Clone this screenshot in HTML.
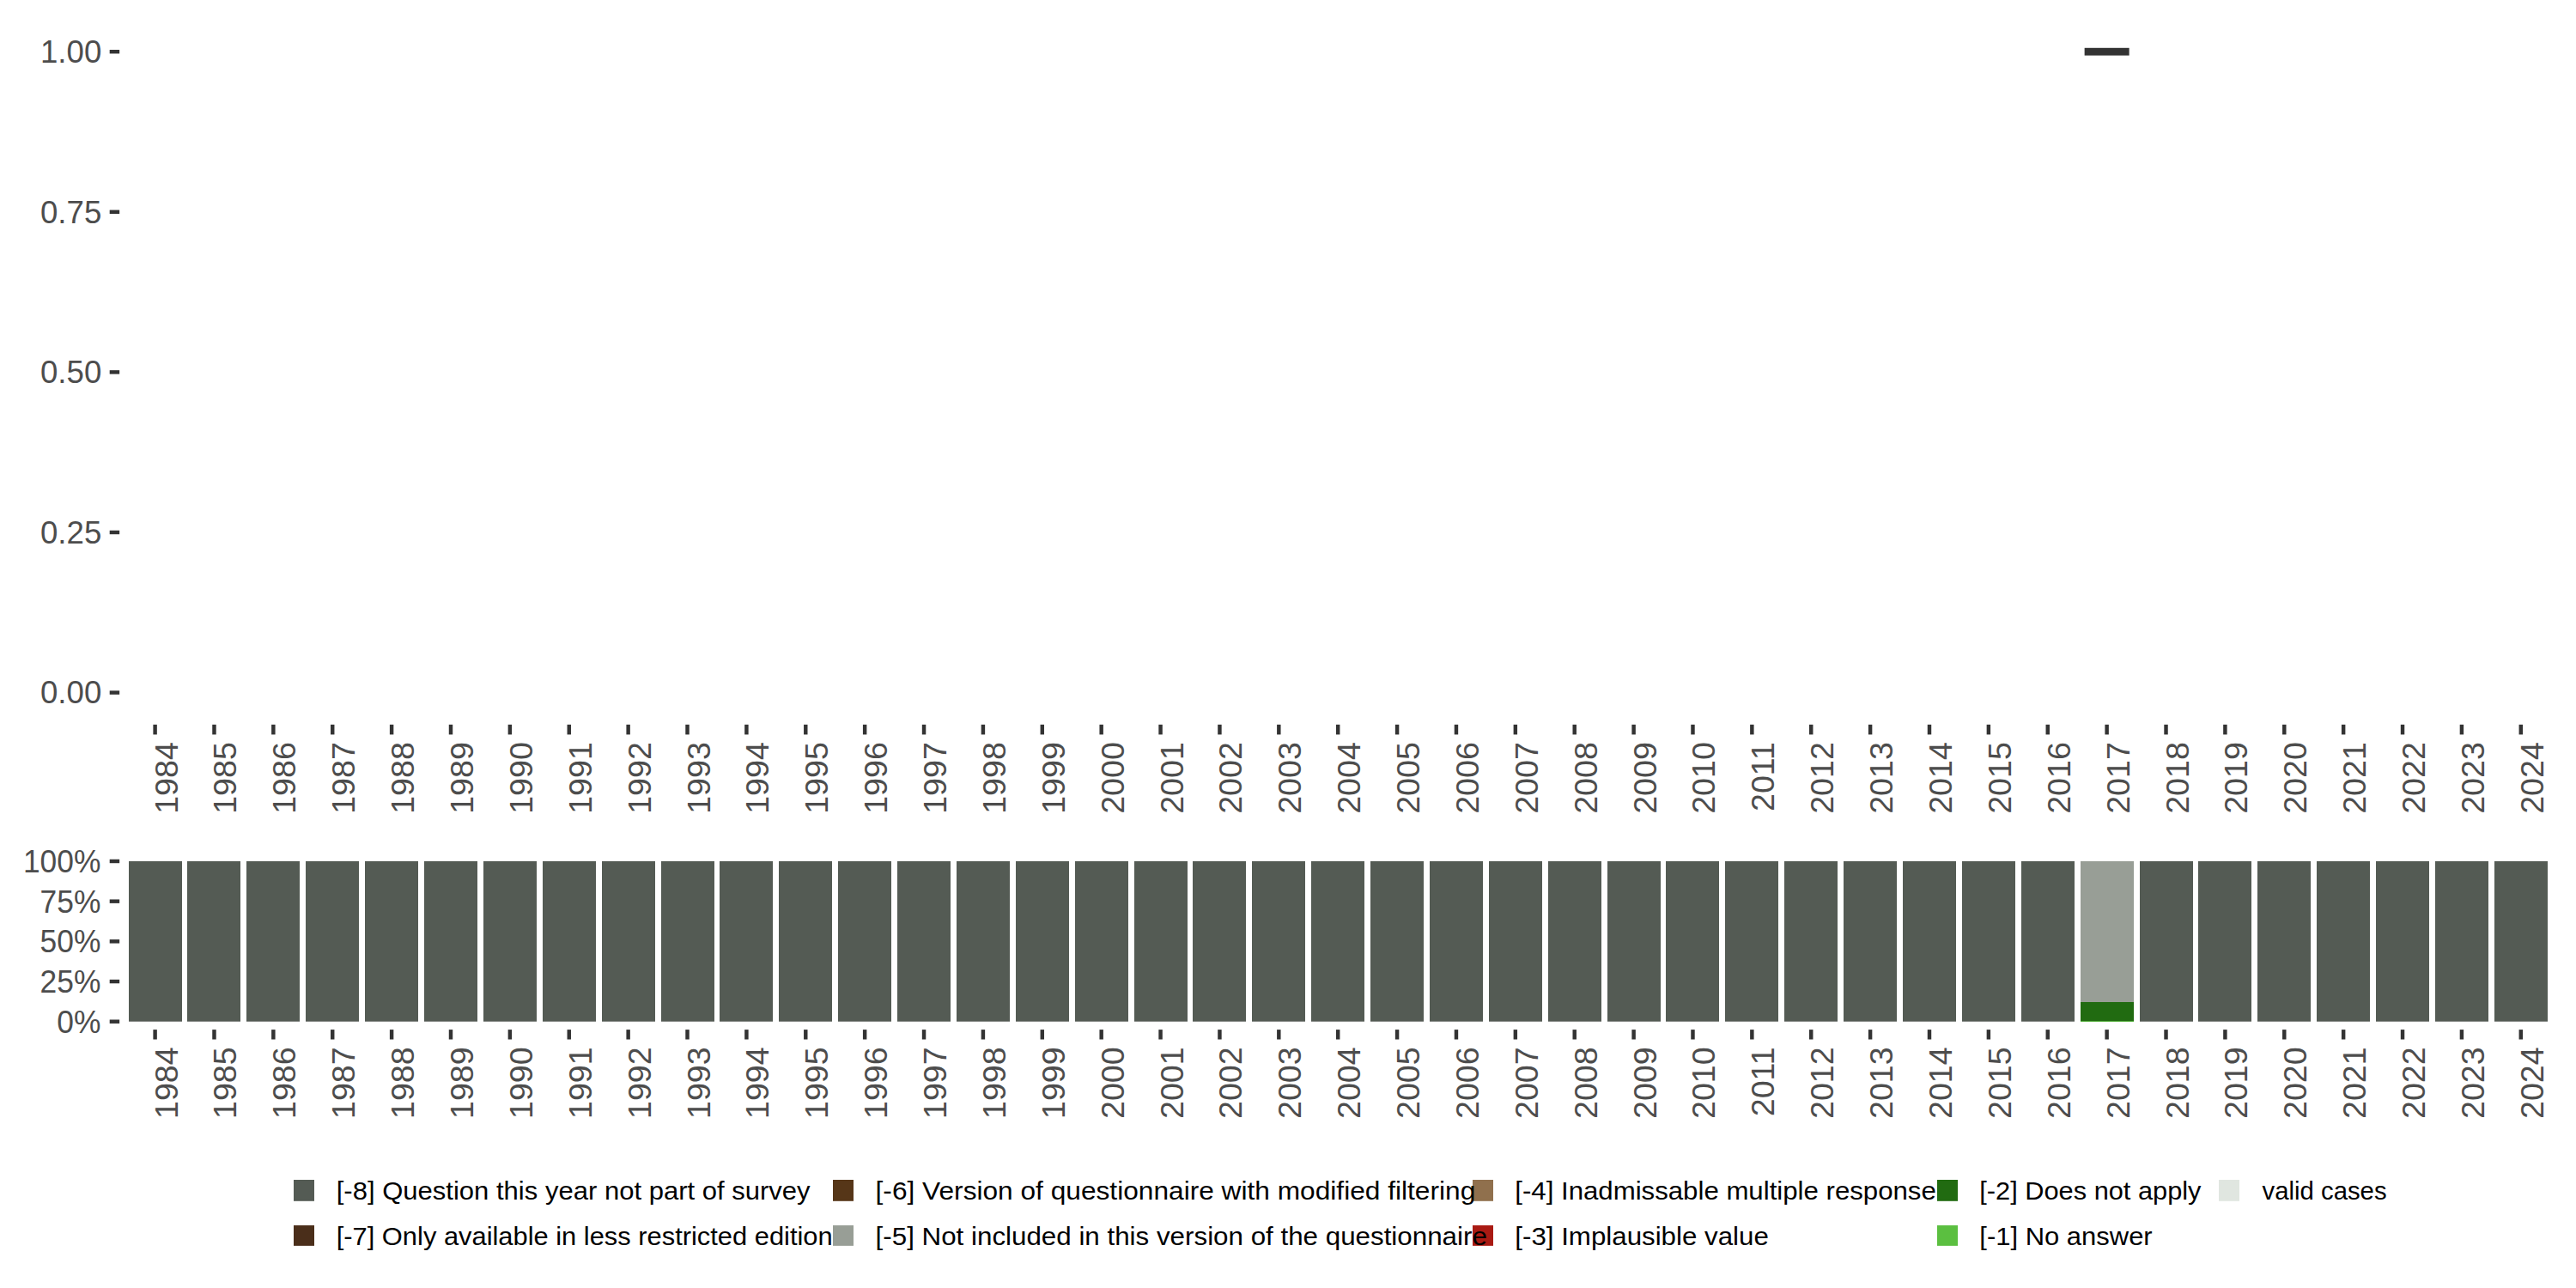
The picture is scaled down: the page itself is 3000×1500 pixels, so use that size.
<!DOCTYPE html>
<html lang="en"><head><meta charset="utf-8"><title>Variable distribution by survey year</title>
<style>html,body{margin:0;padding:0;background:#fff}body{width:3000px;height:1500px;overflow:hidden}svg{display:block}text{font-family:"Liberation Sans", "DejaVu Sans", sans-serif}.ax{font-size:36.67px;fill:#4D4D4D}.lg{font-size:29.3px;fill:#000}</style>
</head><body>
<svg width="3000" height="1500" viewBox="0 0 3000 1500">
<rect x="0" y="0" width="3000" height="1500" fill="#ffffff"/>
<g id="upper">
<rect x="127.7" y="57.98" width="11.45" height="4.45" fill="#333333"/>
<text class="ax" x="118.3" y="73.05" text-anchor="end">1.00</text>
<rect x="127.7" y="244.58" width="11.45" height="4.45" fill="#333333"/>
<text class="ax" x="118.3" y="259.65" text-anchor="end">0.75</text>
<rect x="127.7" y="431.17" width="11.45" height="4.45" fill="#333333"/>
<text class="ax" x="118.3" y="446.25" text-anchor="end">0.50</text>
<rect x="127.7" y="617.77" width="11.45" height="4.45" fill="#333333"/>
<text class="ax" x="118.3" y="632.85" text-anchor="end">0.25</text>
<rect x="127.7" y="804.38" width="11.45" height="4.45" fill="#333333"/>
<text class="ax" x="118.3" y="819.45" text-anchor="end">0.00</text>
<rect x="2427.64" y="55.80" width="52" height="8.8" fill="#333333"/>
<rect x="178.38" y="843.85" width="4.45" height="11.6" fill="#333333"/>
<text class="ax" text-anchor="end" transform="translate(206.90 864.2) rotate(-90) scale(1.025 1)">1984</text>
<rect x="247.25" y="843.85" width="4.45" height="11.6" fill="#333333"/>
<text class="ax" text-anchor="end" transform="translate(274.90 864.2) rotate(-90) scale(1.025 1)">1985</text>
<rect x="316.13" y="843.85" width="4.45" height="11.6" fill="#333333"/>
<text class="ax" text-anchor="end" transform="translate(343.90 864.2) rotate(-90) scale(1.025 1)">1986</text>
<rect x="385.01" y="843.85" width="4.45" height="11.6" fill="#333333"/>
<text class="ax" text-anchor="end" transform="translate(412.90 864.2) rotate(-90) scale(1.025 1)">1987</text>
<rect x="453.89" y="843.85" width="4.45" height="11.6" fill="#333333"/>
<text class="ax" text-anchor="end" transform="translate(481.90 864.2) rotate(-90) scale(1.025 1)">1988</text>
<rect x="522.77" y="843.85" width="4.45" height="11.6" fill="#333333"/>
<text class="ax" text-anchor="end" transform="translate(550.90 864.2) rotate(-90) scale(1.025 1)">1989</text>
<rect x="591.65" y="843.85" width="4.45" height="11.6" fill="#333333"/>
<text class="ax" text-anchor="end" transform="translate(619.90 864.2) rotate(-90) scale(1.025 1)">1990</text>
<rect x="660.53" y="843.85" width="4.45" height="11.6" fill="#333333"/>
<text class="ax" text-anchor="end" transform="translate(688.90 864.2) rotate(-90) scale(1.025 1)">1991</text>
<rect x="729.41" y="843.85" width="4.45" height="11.6" fill="#333333"/>
<text class="ax" text-anchor="end" transform="translate(757.90 864.2) rotate(-90) scale(1.025 1)">1992</text>
<rect x="798.29" y="843.85" width="4.45" height="11.6" fill="#333333"/>
<text class="ax" text-anchor="end" transform="translate(826.90 864.2) rotate(-90) scale(1.025 1)">1993</text>
<rect x="867.17" y="843.85" width="4.45" height="11.6" fill="#333333"/>
<text class="ax" text-anchor="end" transform="translate(894.90 864.2) rotate(-90) scale(1.025 1)">1994</text>
<rect x="936.05" y="843.85" width="4.45" height="11.6" fill="#333333"/>
<text class="ax" text-anchor="end" transform="translate(963.90 864.2) rotate(-90) scale(1.025 1)">1995</text>
<rect x="1004.93" y="843.85" width="4.45" height="11.6" fill="#333333"/>
<text class="ax" text-anchor="end" transform="translate(1032.90 864.2) rotate(-90) scale(1.025 1)">1996</text>
<rect x="1073.82" y="843.85" width="4.45" height="11.6" fill="#333333"/>
<text class="ax" text-anchor="end" transform="translate(1101.90 864.2) rotate(-90) scale(1.025 1)">1997</text>
<rect x="1142.69" y="843.85" width="4.45" height="11.6" fill="#333333"/>
<text class="ax" text-anchor="end" transform="translate(1170.90 864.2) rotate(-90) scale(1.025 1)">1998</text>
<rect x="1211.57" y="843.85" width="4.45" height="11.6" fill="#333333"/>
<text class="ax" text-anchor="end" transform="translate(1239.90 864.2) rotate(-90) scale(1.025 1)">1999</text>
<rect x="1280.45" y="843.85" width="4.45" height="11.6" fill="#333333"/>
<text class="ax" text-anchor="end" transform="translate(1308.90 864.2) rotate(-90) scale(1.025 1)">2000</text>
<rect x="1349.34" y="843.85" width="4.45" height="11.6" fill="#333333"/>
<text class="ax" text-anchor="end" transform="translate(1377.90 864.2) rotate(-90) scale(1.025 1)">2001</text>
<rect x="1418.21" y="843.85" width="4.45" height="11.6" fill="#333333"/>
<text class="ax" text-anchor="end" transform="translate(1445.90 864.2) rotate(-90) scale(1.025 1)">2002</text>
<rect x="1487.09" y="843.85" width="4.45" height="11.6" fill="#333333"/>
<text class="ax" text-anchor="end" transform="translate(1514.90 864.2) rotate(-90) scale(1.025 1)">2003</text>
<rect x="1555.97" y="843.85" width="4.45" height="11.6" fill="#333333"/>
<text class="ax" text-anchor="end" transform="translate(1583.90 864.2) rotate(-90) scale(1.025 1)">2004</text>
<rect x="1624.86" y="843.85" width="4.45" height="11.6" fill="#333333"/>
<text class="ax" text-anchor="end" transform="translate(1652.90 864.2) rotate(-90) scale(1.025 1)">2005</text>
<rect x="1693.73" y="843.85" width="4.45" height="11.6" fill="#333333"/>
<text class="ax" text-anchor="end" transform="translate(1721.90 864.2) rotate(-90) scale(1.025 1)">2006</text>
<rect x="1762.61" y="843.85" width="4.45" height="11.6" fill="#333333"/>
<text class="ax" text-anchor="end" transform="translate(1790.90 864.2) rotate(-90) scale(1.025 1)">2007</text>
<rect x="1831.49" y="843.85" width="4.45" height="11.6" fill="#333333"/>
<text class="ax" text-anchor="end" transform="translate(1859.90 864.2) rotate(-90) scale(1.025 1)">2008</text>
<rect x="1900.38" y="843.85" width="4.45" height="11.6" fill="#333333"/>
<text class="ax" text-anchor="end" transform="translate(1928.90 864.2) rotate(-90) scale(1.025 1)">2009</text>
<rect x="1969.25" y="843.85" width="4.45" height="11.6" fill="#333333"/>
<text class="ax" text-anchor="end" transform="translate(1996.90 864.2) rotate(-90) scale(1.025 1)">2010</text>
<rect x="2038.13" y="843.85" width="4.45" height="11.6" fill="#333333"/>
<text class="ax" text-anchor="end" transform="translate(2065.90 864.2) rotate(-90) scale(1.025 1)">2011</text>
<rect x="2107.01" y="843.85" width="4.45" height="11.6" fill="#333333"/>
<text class="ax" text-anchor="end" transform="translate(2134.90 864.2) rotate(-90) scale(1.025 1)">2012</text>
<rect x="2175.89" y="843.85" width="4.45" height="11.6" fill="#333333"/>
<text class="ax" text-anchor="end" transform="translate(2203.90 864.2) rotate(-90) scale(1.025 1)">2013</text>
<rect x="2244.77" y="843.85" width="4.45" height="11.6" fill="#333333"/>
<text class="ax" text-anchor="end" transform="translate(2272.90 864.2) rotate(-90) scale(1.025 1)">2014</text>
<rect x="2313.65" y="843.85" width="4.45" height="11.6" fill="#333333"/>
<text class="ax" text-anchor="end" transform="translate(2341.90 864.2) rotate(-90) scale(1.025 1)">2015</text>
<rect x="2382.53" y="843.85" width="4.45" height="11.6" fill="#333333"/>
<text class="ax" text-anchor="end" transform="translate(2410.90 864.2) rotate(-90) scale(1.025 1)">2016</text>
<rect x="2451.41" y="843.85" width="4.45" height="11.6" fill="#333333"/>
<text class="ax" text-anchor="end" transform="translate(2479.90 864.2) rotate(-90) scale(1.025 1)">2017</text>
<rect x="2520.30" y="843.85" width="4.45" height="11.6" fill="#333333"/>
<text class="ax" text-anchor="end" transform="translate(2548.90 864.2) rotate(-90) scale(1.025 1)">2018</text>
<rect x="2589.17" y="843.85" width="4.45" height="11.6" fill="#333333"/>
<text class="ax" text-anchor="end" transform="translate(2616.90 864.2) rotate(-90) scale(1.025 1)">2019</text>
<rect x="2658.05" y="843.85" width="4.45" height="11.6" fill="#333333"/>
<text class="ax" text-anchor="end" transform="translate(2685.90 864.2) rotate(-90) scale(1.025 1)">2020</text>
<rect x="2726.93" y="843.85" width="4.45" height="11.6" fill="#333333"/>
<text class="ax" text-anchor="end" transform="translate(2754.90 864.2) rotate(-90) scale(1.025 1)">2021</text>
<rect x="2795.81" y="843.85" width="4.45" height="11.6" fill="#333333"/>
<text class="ax" text-anchor="end" transform="translate(2823.90 864.2) rotate(-90) scale(1.025 1)">2022</text>
<rect x="2864.69" y="843.85" width="4.45" height="11.6" fill="#333333"/>
<text class="ax" text-anchor="end" transform="translate(2892.90 864.2) rotate(-90) scale(1.025 1)">2023</text>
<rect x="2933.57" y="843.85" width="4.45" height="11.6" fill="#333333"/>
<text class="ax" text-anchor="end" transform="translate(2961.90 864.2) rotate(-90) scale(1.025 1)">2024</text>
</g>
<g id="lower">
<rect x="127.7" y="1000.77" width="11.45" height="4.45" fill="#333333"/>
<text class="ax" text-anchor="end" transform="translate(117.4 1015.85) scale(0.965 1)">100%</text>
<rect x="127.7" y="1047.45" width="11.45" height="4.45" fill="#333333"/>
<text class="ax" text-anchor="end" transform="translate(117.4 1062.52) scale(0.965 1)">75%</text>
<rect x="127.7" y="1094.12" width="11.45" height="4.45" fill="#333333"/>
<text class="ax" text-anchor="end" transform="translate(117.4 1109.20) scale(0.965 1)">50%</text>
<rect x="127.7" y="1140.80" width="11.45" height="4.45" fill="#333333"/>
<text class="ax" text-anchor="end" transform="translate(117.4 1155.88) scale(0.965 1)">25%</text>
<rect x="127.7" y="1187.48" width="11.45" height="4.45" fill="#333333"/>
<text class="ax" text-anchor="end" transform="translate(117.4 1202.55) scale(0.965 1)">0%</text>
<rect x="150" y="1003.00" width="62" height="186.70" fill="#545B54"/>
<rect x="178.38" y="1199.1" width="4.45" height="11.4" fill="#333333"/>
<text class="ax" text-anchor="end" transform="translate(206.90 1219.4) rotate(-90) scale(1.025 1)">1984</text>
<rect x="218" y="1003.00" width="62" height="186.70" fill="#545B54"/>
<rect x="247.25" y="1199.1" width="4.45" height="11.4" fill="#333333"/>
<text class="ax" text-anchor="end" transform="translate(274.90 1219.4) rotate(-90) scale(1.025 1)">1985</text>
<rect x="287" y="1003.00" width="62" height="186.70" fill="#545B54"/>
<rect x="316.13" y="1199.1" width="4.45" height="11.4" fill="#333333"/>
<text class="ax" text-anchor="end" transform="translate(343.90 1219.4) rotate(-90) scale(1.025 1)">1986</text>
<rect x="356" y="1003.00" width="62" height="186.70" fill="#545B54"/>
<rect x="385.01" y="1199.1" width="4.45" height="11.4" fill="#333333"/>
<text class="ax" text-anchor="end" transform="translate(412.90 1219.4) rotate(-90) scale(1.025 1)">1987</text>
<rect x="425" y="1003.00" width="62" height="186.70" fill="#545B54"/>
<rect x="453.89" y="1199.1" width="4.45" height="11.4" fill="#333333"/>
<text class="ax" text-anchor="end" transform="translate(481.90 1219.4) rotate(-90) scale(1.025 1)">1988</text>
<rect x="494" y="1003.00" width="62" height="186.70" fill="#545B54"/>
<rect x="522.77" y="1199.1" width="4.45" height="11.4" fill="#333333"/>
<text class="ax" text-anchor="end" transform="translate(550.90 1219.4) rotate(-90) scale(1.025 1)">1989</text>
<rect x="563" y="1003.00" width="62" height="186.70" fill="#545B54"/>
<rect x="591.65" y="1199.1" width="4.45" height="11.4" fill="#333333"/>
<text class="ax" text-anchor="end" transform="translate(619.90 1219.4) rotate(-90) scale(1.025 1)">1990</text>
<rect x="632" y="1003.00" width="62" height="186.70" fill="#545B54"/>
<rect x="660.53" y="1199.1" width="4.45" height="11.4" fill="#333333"/>
<text class="ax" text-anchor="end" transform="translate(688.90 1219.4) rotate(-90) scale(1.025 1)">1991</text>
<rect x="701" y="1003.00" width="62" height="186.70" fill="#545B54"/>
<rect x="729.41" y="1199.1" width="4.45" height="11.4" fill="#333333"/>
<text class="ax" text-anchor="end" transform="translate(757.90 1219.4) rotate(-90) scale(1.025 1)">1992</text>
<rect x="770" y="1003.00" width="62" height="186.70" fill="#545B54"/>
<rect x="798.29" y="1199.1" width="4.45" height="11.4" fill="#333333"/>
<text class="ax" text-anchor="end" transform="translate(826.90 1219.4) rotate(-90) scale(1.025 1)">1993</text>
<rect x="838" y="1003.00" width="62" height="186.70" fill="#545B54"/>
<rect x="867.17" y="1199.1" width="4.45" height="11.4" fill="#333333"/>
<text class="ax" text-anchor="end" transform="translate(894.90 1219.4) rotate(-90) scale(1.025 1)">1994</text>
<rect x="907" y="1003.00" width="62" height="186.70" fill="#545B54"/>
<rect x="936.05" y="1199.1" width="4.45" height="11.4" fill="#333333"/>
<text class="ax" text-anchor="end" transform="translate(963.90 1219.4) rotate(-90) scale(1.025 1)">1995</text>
<rect x="976" y="1003.00" width="62" height="186.70" fill="#545B54"/>
<rect x="1004.93" y="1199.1" width="4.45" height="11.4" fill="#333333"/>
<text class="ax" text-anchor="end" transform="translate(1032.90 1219.4) rotate(-90) scale(1.025 1)">1996</text>
<rect x="1045" y="1003.00" width="62" height="186.70" fill="#545B54"/>
<rect x="1073.82" y="1199.1" width="4.45" height="11.4" fill="#333333"/>
<text class="ax" text-anchor="end" transform="translate(1101.90 1219.4) rotate(-90) scale(1.025 1)">1997</text>
<rect x="1114" y="1003.00" width="62" height="186.70" fill="#545B54"/>
<rect x="1142.69" y="1199.1" width="4.45" height="11.4" fill="#333333"/>
<text class="ax" text-anchor="end" transform="translate(1170.90 1219.4) rotate(-90) scale(1.025 1)">1998</text>
<rect x="1183" y="1003.00" width="62" height="186.70" fill="#545B54"/>
<rect x="1211.57" y="1199.1" width="4.45" height="11.4" fill="#333333"/>
<text class="ax" text-anchor="end" transform="translate(1239.90 1219.4) rotate(-90) scale(1.025 1)">1999</text>
<rect x="1252" y="1003.00" width="62" height="186.70" fill="#545B54"/>
<rect x="1280.45" y="1199.1" width="4.45" height="11.4" fill="#333333"/>
<text class="ax" text-anchor="end" transform="translate(1308.90 1219.4) rotate(-90) scale(1.025 1)">2000</text>
<rect x="1321" y="1003.00" width="62" height="186.70" fill="#545B54"/>
<rect x="1349.34" y="1199.1" width="4.45" height="11.4" fill="#333333"/>
<text class="ax" text-anchor="end" transform="translate(1377.90 1219.4) rotate(-90) scale(1.025 1)">2001</text>
<rect x="1389" y="1003.00" width="62" height="186.70" fill="#545B54"/>
<rect x="1418.21" y="1199.1" width="4.45" height="11.4" fill="#333333"/>
<text class="ax" text-anchor="end" transform="translate(1445.90 1219.4) rotate(-90) scale(1.025 1)">2002</text>
<rect x="1458" y="1003.00" width="62" height="186.70" fill="#545B54"/>
<rect x="1487.09" y="1199.1" width="4.45" height="11.4" fill="#333333"/>
<text class="ax" text-anchor="end" transform="translate(1514.90 1219.4) rotate(-90) scale(1.025 1)">2003</text>
<rect x="1527" y="1003.00" width="62" height="186.70" fill="#545B54"/>
<rect x="1555.97" y="1199.1" width="4.45" height="11.4" fill="#333333"/>
<text class="ax" text-anchor="end" transform="translate(1583.90 1219.4) rotate(-90) scale(1.025 1)">2004</text>
<rect x="1596" y="1003.00" width="62" height="186.70" fill="#545B54"/>
<rect x="1624.86" y="1199.1" width="4.45" height="11.4" fill="#333333"/>
<text class="ax" text-anchor="end" transform="translate(1652.90 1219.4) rotate(-90) scale(1.025 1)">2005</text>
<rect x="1665" y="1003.00" width="62" height="186.70" fill="#545B54"/>
<rect x="1693.73" y="1199.1" width="4.45" height="11.4" fill="#333333"/>
<text class="ax" text-anchor="end" transform="translate(1721.90 1219.4) rotate(-90) scale(1.025 1)">2006</text>
<rect x="1734" y="1003.00" width="62" height="186.70" fill="#545B54"/>
<rect x="1762.61" y="1199.1" width="4.45" height="11.4" fill="#333333"/>
<text class="ax" text-anchor="end" transform="translate(1790.90 1219.4) rotate(-90) scale(1.025 1)">2007</text>
<rect x="1803" y="1003.00" width="62" height="186.70" fill="#545B54"/>
<rect x="1831.49" y="1199.1" width="4.45" height="11.4" fill="#333333"/>
<text class="ax" text-anchor="end" transform="translate(1859.90 1219.4) rotate(-90) scale(1.025 1)">2008</text>
<rect x="1872" y="1003.00" width="62" height="186.70" fill="#545B54"/>
<rect x="1900.38" y="1199.1" width="4.45" height="11.4" fill="#333333"/>
<text class="ax" text-anchor="end" transform="translate(1928.90 1219.4) rotate(-90) scale(1.025 1)">2009</text>
<rect x="1940" y="1003.00" width="62" height="186.70" fill="#545B54"/>
<rect x="1969.25" y="1199.1" width="4.45" height="11.4" fill="#333333"/>
<text class="ax" text-anchor="end" transform="translate(1996.90 1219.4) rotate(-90) scale(1.025 1)">2010</text>
<rect x="2009" y="1003.00" width="62" height="186.70" fill="#545B54"/>
<rect x="2038.13" y="1199.1" width="4.45" height="11.4" fill="#333333"/>
<text class="ax" text-anchor="end" transform="translate(2065.90 1219.4) rotate(-90) scale(1.025 1)">2011</text>
<rect x="2078" y="1003.00" width="62" height="186.70" fill="#545B54"/>
<rect x="2107.01" y="1199.1" width="4.45" height="11.4" fill="#333333"/>
<text class="ax" text-anchor="end" transform="translate(2134.90 1219.4) rotate(-90) scale(1.025 1)">2012</text>
<rect x="2147" y="1003.00" width="62" height="186.70" fill="#545B54"/>
<rect x="2175.89" y="1199.1" width="4.45" height="11.4" fill="#333333"/>
<text class="ax" text-anchor="end" transform="translate(2203.90 1219.4) rotate(-90) scale(1.025 1)">2013</text>
<rect x="2216" y="1003.00" width="62" height="186.70" fill="#545B54"/>
<rect x="2244.77" y="1199.1" width="4.45" height="11.4" fill="#333333"/>
<text class="ax" text-anchor="end" transform="translate(2272.90 1219.4) rotate(-90) scale(1.025 1)">2014</text>
<rect x="2285" y="1003.00" width="62" height="186.70" fill="#545B54"/>
<rect x="2313.65" y="1199.1" width="4.45" height="11.4" fill="#333333"/>
<text class="ax" text-anchor="end" transform="translate(2341.90 1219.4) rotate(-90) scale(1.025 1)">2015</text>
<rect x="2354" y="1003.00" width="62" height="186.70" fill="#545B54"/>
<rect x="2382.53" y="1199.1" width="4.45" height="11.4" fill="#333333"/>
<text class="ax" text-anchor="end" transform="translate(2410.90 1219.4) rotate(-90) scale(1.025 1)">2016</text>
<rect x="2423" y="1003.00" width="62" height="164.00" fill="#989E96"/>
<rect x="2423" y="1167" width="62" height="22.70" fill="#216B11"/>
<rect x="2423" y="1189.30" width="62" height="0.7" fill="#5BBF40"/>
<rect x="2451.41" y="1199.1" width="4.45" height="11.4" fill="#333333"/>
<text class="ax" text-anchor="end" transform="translate(2479.90 1219.4) rotate(-90) scale(1.025 1)">2017</text>
<rect x="2492" y="1003.00" width="62" height="186.70" fill="#545B54"/>
<rect x="2520.30" y="1199.1" width="4.45" height="11.4" fill="#333333"/>
<text class="ax" text-anchor="end" transform="translate(2548.90 1219.4) rotate(-90) scale(1.025 1)">2018</text>
<rect x="2560" y="1003.00" width="62" height="186.70" fill="#545B54"/>
<rect x="2589.17" y="1199.1" width="4.45" height="11.4" fill="#333333"/>
<text class="ax" text-anchor="end" transform="translate(2616.90 1219.4) rotate(-90) scale(1.025 1)">2019</text>
<rect x="2629" y="1003.00" width="62" height="186.70" fill="#545B54"/>
<rect x="2658.05" y="1199.1" width="4.45" height="11.4" fill="#333333"/>
<text class="ax" text-anchor="end" transform="translate(2685.90 1219.4) rotate(-90) scale(1.025 1)">2020</text>
<rect x="2698" y="1003.00" width="62" height="186.70" fill="#545B54"/>
<rect x="2726.93" y="1199.1" width="4.45" height="11.4" fill="#333333"/>
<text class="ax" text-anchor="end" transform="translate(2754.90 1219.4) rotate(-90) scale(1.025 1)">2021</text>
<rect x="2767" y="1003.00" width="62" height="186.70" fill="#545B54"/>
<rect x="2795.81" y="1199.1" width="4.45" height="11.4" fill="#333333"/>
<text class="ax" text-anchor="end" transform="translate(2823.90 1219.4) rotate(-90) scale(1.025 1)">2022</text>
<rect x="2836" y="1003.00" width="62" height="186.70" fill="#545B54"/>
<rect x="2864.69" y="1199.1" width="4.45" height="11.4" fill="#333333"/>
<text class="ax" text-anchor="end" transform="translate(2892.90 1219.4) rotate(-90) scale(1.025 1)">2023</text>
<rect x="2905" y="1003.00" width="62" height="186.70" fill="#545B54"/>
<rect x="2933.57" y="1199.1" width="4.45" height="11.4" fill="#333333"/>
<text class="ax" text-anchor="end" transform="translate(2961.90 1219.4) rotate(-90) scale(1.025 1)">2024</text>
</g>
<g id="legend">
<rect x="342.00" y="1374.00" width="24" height="24.80" fill="#545B54"/>
<rect x="342.00" y="1427.05" width="24" height="23.80" fill="#4A2E1A"/>
<rect x="970.00" y="1374.00" width="24" height="24.80" fill="#563618"/>
<rect x="970.00" y="1427.05" width="24" height="23.80" fill="#989E96"/>
<rect x="1715.00" y="1374.00" width="24" height="24.80" fill="#90704D"/>
<rect x="1715.00" y="1427.05" width="24" height="23.80" fill="#A91A13"/>
<rect x="2256.00" y="1374.00" width="24" height="24.80" fill="#216B11"/>
<rect x="2256.00" y="1427.05" width="24" height="23.80" fill="#5BBF40"/>
<rect x="2584.00" y="1374.00" width="24" height="24.80" fill="#E0E6E0"/>
<text class="lg" transform="translate(391.70 1397.20) scale(1.0596 1)">[-8] Question this year not part of survey</text>
<text class="lg" transform="translate(391.71 1449.90) scale(1.0538 1)">[-7] Only available in less restricted edition</text>
<text class="lg" transform="translate(1019.56 1397.20) scale(1.0809 1)">[-6] Version of questionnaire with modified filtering</text>
<text class="lg" transform="translate(1019.58 1449.90) scale(1.0694 1)">[-5] Not included in this version of the questionnaire</text>
<text class="lg" transform="translate(1764.29 1397.20) scale(1.0646 1)">[-4] Inadmissable multiple response</text>
<text class="lg" transform="translate(1764.28 1449.90) scale(1.0679 1)">[-3] Implausible value</text>
<text class="lg" transform="translate(2305.31 1397.20) scale(1.0504 1)">[-2] Does not apply</text>
<text class="lg" transform="translate(2305.30 1449.90) scale(1.0574 1)">[-1] No answer</text>
<text class="lg" transform="translate(2634.60 1397.20) scale(1.0000 1)">valid cases</text>
</g>
</svg></body></html>
